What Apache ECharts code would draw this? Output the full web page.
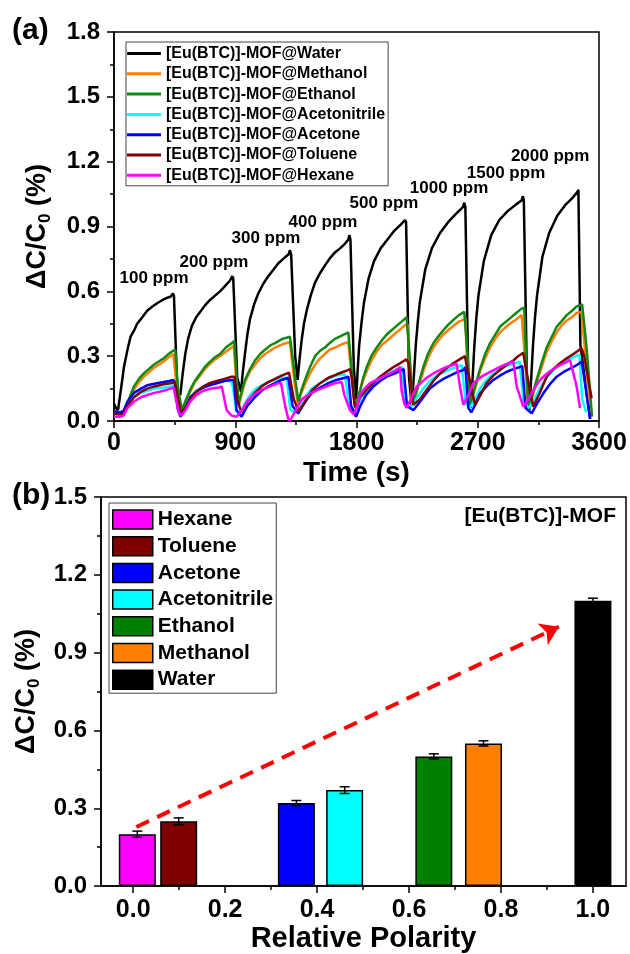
<!DOCTYPE html>
<html>

<head>
    <meta charset="utf-8">
    <title>[Eu(BTC)]-MOF humidity / solvent response</title>
    <script src="https://cdn.jsdelivr.net/npm/echarts@6/dist/echarts.min.js"></script>
    <style>
        html, body { margin: 0; padding: 0; background: #fff; }
        #chart { width: 630px; height: 954px; }
    </style>
</head>

<body>
    <div id="chart"></div>
    <script>
        // ---- (a) response curves, [time (s), ΔC/C0 (%)] ----
        const waterData = [[0,0.08],[15,0.06],[30,0.05],[50,0.14],[74,0.25],[100,0.33],[123,0.39],[150,0.42],[172,0.45],[210,0.48],[246,0.51],[285,0.53],[320,0.545],[360,0.56],[394,0.57],[420,0.575],[438,0.59],[445,0.58],[470,0.14],[492,0.12],[510,0.22],[529,0.31],[550,0.38],[578,0.44],[610,0.48],[640,0.505],[675,0.535],[713,0.56],[750,0.58],[787,0.60],[825,0.625],[861,0.65],[878,0.67],[885,0.66],[915,0.2],[943,0.135],[955,0.22],[972,0.31],[990,0.40],[1009,0.47],[1040,0.54],[1071,0.59],[1108,0.635],[1145,0.67],[1183,0.70],[1220,0.73],[1265,0.755],[1295,0.77],[1306,0.79],[1315,0.77],[1345,0.3],[1363,0.19],[1378,0.29],[1393,0.375],[1410,0.45],[1430,0.51],[1460,0.58],[1492,0.64],[1530,0.685],[1566,0.72],[1605,0.755],[1640,0.78],[1680,0.80],[1714,0.82],[1740,0.84],[1747,0.86],[1755,0.84],[1780,0.25],[1797,0.10],[1810,0.25],[1820,0.35],[1838,0.46],[1856,0.55],[1890,0.66],[1930,0.74],[1980,0.80],[2030,0.84],[2080,0.88],[2130,0.91],[2160,0.93],[2168,0.92],[2190,0.2],[2210,0.07],[2225,0.2],[2240,0.35],[2255,0.46],[2270,0.55],[2310,0.70],[2360,0.80],[2420,0.87],[2480,0.92],[2540,0.96],[2590,0.99],[2600,1.01],[2608,0.99],[2630,0.2],[2648,0.06],[2662,0.2],[2675,0.35],[2690,0.48],[2705,0.58],[2745,0.74],[2800,0.86],[2860,0.93],[2920,0.97],[2980,1.00],[3025,1.02],[3035,1.04],[3042,1.02],[3065,0.2],[3083,0.05],[3097,0.2],[3110,0.35],[3125,0.48],[3140,0.58],[3180,0.76],[3230,0.87],[3290,0.95],[3350,1.00],[3400,1.03],[3440,1.06],[3447,1.07],[3462,0.35],[3535,0.01]];

        const methanolData = [[0,0.04],[40,0.035],[80,0.04],[110,0.09],[148,0.145],[185,0.18],[221,0.205],[258,0.225],[295,0.245],[332,0.26],[369,0.275],[405,0.295],[440,0.31],[452,0.31],[472,0.12],[500,0.04],[535,0.09],[566,0.135],[600,0.18],[640,0.21],[675,0.24],[713,0.265],[750,0.285],[787,0.30],[830,0.32],[873,0.34],[890,0.35],[905,0.2],[925,0.07],[950,0.13],[972,0.18],[1010,0.23],[1046,0.26],[1085,0.29],[1121,0.31],[1160,0.325],[1195,0.34],[1250,0.355],[1306,0.365],[1318,0.37],[1340,0.18],[1365,0.08],[1390,0.13],[1418,0.17],[1455,0.22],[1492,0.26],[1530,0.29],[1566,0.31],[1600,0.33],[1640,0.34],[1690,0.355],[1739,0.365],[1750,0.37],[1768,0.18],[1788,0.06],[1805,0.09],[1826,0.14],[1850,0.19],[1876,0.23],[1910,0.28],[1950,0.32],[1985,0.35],[2024,0.37],[2060,0.39],[2098,0.41],[2135,0.43],[2165,0.445],[2180,0.445],[2198,0.22],[2215,0.07],[2255,0.15],[2296,0.23],[2330,0.29],[2370,0.34],[2405,0.37],[2444,0.40],[2480,0.42],[2519,0.44],[2560,0.46],[2600,0.47],[2608,0.48],[2622,0.25],[2640,0.07],[2680,0.15],[2717,0.23],[2755,0.29],[2791,0.34],[2830,0.38],[2865,0.41],[2900,0.43],[2939,0.45],[2985,0.47],[3026,0.49],[3040,0.495],[3055,0.25],[3072,0.07],[3105,0.11],[3137,0.18],[3175,0.25],[3211,0.32],[3250,0.37],[3286,0.41],[3320,0.44],[3360,0.465],[3400,0.48],[3434,0.50],[3470,0.505],[3480,0.51],[3500,0.3],[3525,0.08]];

        const ethanolData = [[0,0.045],[40,0.04],[80,0.045],[110,0.10],[148,0.16],[185,0.195],[221,0.22],[258,0.24],[295,0.26],[332,0.275],[369,0.29],[405,0.31],[438,0.325],[455,0.33],[475,0.15],[504,0.05],[535,0.10],[566,0.145],[600,0.185],[640,0.22],[675,0.25],[713,0.275],[750,0.295],[787,0.31],[830,0.34],[873,0.36],[893,0.37],[905,0.25],[925,0.08],[950,0.14],[972,0.19],[1010,0.24],[1046,0.28],[1085,0.31],[1121,0.33],[1160,0.35],[1195,0.36],[1250,0.38],[1306,0.39],[1320,0.395],[1340,0.22],[1368,0.09],[1390,0.14],[1418,0.19],[1455,0.25],[1492,0.30],[1530,0.325],[1566,0.34],[1600,0.36],[1640,0.38],[1690,0.395],[1739,0.41],[1752,0.415],[1770,0.2],[1790,0.06],[1805,0.09],[1826,0.14],[1850,0.2],[1876,0.25],[1910,0.30],[1950,0.34],[1985,0.37],[2024,0.40],[2060,0.42],[2098,0.44],[2135,0.46],[2172,0.48],[2185,0.485],[2200,0.25],[2218,0.08],[2255,0.16],[2296,0.25],[2330,0.31],[2370,0.36],[2405,0.39],[2444,0.42],[2480,0.445],[2519,0.468],[2560,0.49],[2600,0.505],[2612,0.51],[2625,0.3],[2642,0.07],[2680,0.16],[2717,0.24],[2755,0.31],[2791,0.36],[2830,0.40],[2865,0.436],[2900,0.455],[2939,0.475],[2985,0.50],[3026,0.52],[3045,0.525],[3058,0.3],[3075,0.07],[3105,0.12],[3137,0.19],[3175,0.27],[3211,0.34],[3250,0.39],[3286,0.436],[3320,0.46],[3360,0.49],[3400,0.51],[3434,0.53],[3475,0.54],[3485,0.54],[3508,0.34],[3548,0.02]];

        const acetonitrileData = [[0,0.035],[40,0.03],[70,0.035],[100,0.075],[148,0.11],[200,0.13],[246,0.14],[300,0.15],[369,0.155],[420,0.16],[440,0.165],[455,0.14],[480,0.04],[500,0.03],[530,0.06],[566,0.11],[610,0.14],[664,0.16],[710,0.17],[763,0.18],[820,0.185],[870,0.185],[885,0.15],[905,0.05],[935,0.03],[970,0.08],[1010,0.12],[1046,0.145],[1095,0.165],[1145,0.18],[1195,0.19],[1244,0.2],[1280,0.2],[1290,0.15],[1310,0.05],[1350,0.04],[1390,0.07],[1430,0.12],[1467,0.15],[1530,0.175],[1591,0.195],[1650,0.21],[1714,0.215],[1728,0.22],[1745,0.07],[1785,0.04],[1826,0.08],[1870,0.14],[1925,0.18],[1975,0.205],[2024,0.22],[2085,0.235],[2125,0.245],[2140,0.25],[2160,0.08],[2200,0.06],[2240,0.1],[2296,0.15],[2345,0.185],[2395,0.21],[2445,0.225],[2494,0.24],[2545,0.25],[2580,0.26],[2590,0.26],[2612,0.08],[2640,0.06],[2680,0.1],[2717,0.15],[2765,0.19],[2816,0.22],[2865,0.24],[2915,0.255],[2965,0.265],[3010,0.275],[3020,0.28],[3042,0.08],[3080,0.06],[3120,0.1],[3160,0.15],[3211,0.2],[3260,0.235],[3310,0.26],[3360,0.28],[3410,0.295],[3440,0.305],[3455,0.305],[3475,0.1],[3505,0.04]];

        const acetoneData = [[0,0.045],[40,0.04],[70,0.045],[100,0.09],[148,0.13],[200,0.15],[246,0.165],[300,0.172],[369,0.18],[410,0.185],[440,0.19],[450,0.18],[475,0.05],[495,0.02],[530,0.06],[566,0.11],[610,0.135],[664,0.155],[710,0.165],[763,0.175],[820,0.185],[873,0.19],[888,0.19],[910,0.05],[947,0.02],[990,0.07],[1046,0.11],[1095,0.14],[1145,0.16],[1195,0.175],[1244,0.19],[1294,0.20],[1305,0.2],[1325,0.07],[1368,0.035],[1420,0.09],[1467,0.13],[1530,0.155],[1591,0.175],[1650,0.19],[1714,0.2],[1740,0.205],[1760,0.07],[1797,0.02],[1826,0.066],[1870,0.12],[1925,0.16],[1975,0.185],[2024,0.205],[2085,0.22],[2135,0.235],[2150,0.24],[2175,0.07],[2222,0.05],[2260,0.08],[2296,0.11],[2345,0.15],[2395,0.175],[2445,0.195],[2494,0.21],[2545,0.225],[2593,0.236],[2608,0.25],[2630,0.06],[2652,0.04],[2685,0.08],[2717,0.128],[2765,0.16],[2816,0.19],[2865,0.21],[2915,0.228],[2965,0.24],[3014,0.25],[3030,0.255],[3055,0.06],[3100,0.035],[3140,0.08],[3187,0.128],[3235,0.17],[3286,0.205],[3345,0.23],[3410,0.25],[3450,0.265],[3471,0.275],[3490,0.2],[3533,0.01]];

        const tolueneData = [[0,0.035],[40,0.03],[70,0.035],[100,0.07],[148,0.11],[200,0.135],[246,0.15],[300,0.16],[369,0.17],[420,0.175],[450,0.18],[470,0.12],[495,0.04],[530,0.06],[566,0.1],[610,0.135],[664,0.16],[710,0.175],[763,0.185],[820,0.195],[873,0.205],[895,0.205],[915,0.1],[945,0.04],[990,0.09],[1046,0.13],[1095,0.16],[1145,0.18],[1195,0.195],[1244,0.21],[1299,0.224],[1312,0.22],[1335,0.1],[1370,0.045],[1420,0.09],[1467,0.14],[1530,0.175],[1591,0.2],[1650,0.215],[1714,0.23],[1752,0.24],[1765,0.2],[1785,0.08],[1800,0.06],[1826,0.11],[1875,0.145],[1925,0.175],[1975,0.205],[2024,0.228],[2075,0.25],[2123,0.267],[2170,0.285],[2185,0.27],[2222,0.075],[2270,0.1],[2321,0.143],[2370,0.185],[2420,0.22],[2470,0.245],[2519,0.267],[2565,0.285],[2605,0.30],[2620,0.25],[2680,0.075],[2720,0.12],[2766,0.175],[2815,0.21],[2865,0.236],[2915,0.26],[2964,0.28],[3000,0.3],[3038,0.316],[3055,0.25],[3112,0.066],[3160,0.13],[3211,0.205],[3260,0.24],[3310,0.267],[3360,0.29],[3410,0.31],[3445,0.325],[3471,0.336],[3490,0.3],[3545,0.105]];

        const hexaneData = [[0,0.02],[40,0.02],[70,0.025],[100,0.06],[148,0.09],[200,0.11],[246,0.12],[300,0.13],[369,0.14],[420,0.15],[443,0.155],[460,0.1],[480,0.04],[500,0.025],[530,0.05],[566,0.09],[610,0.12],[664,0.14],[720,0.15],[780,0.155],[800,0.16],[836,0.05],[873,0.025],[910,0.02],[950,0.05],[997,0.10],[1046,0.125],[1096,0.145],[1160,0.16],[1220,0.175],[1240,0.175],[1270,0.07],[1294,0.01],[1305,0.0],[1350,0.05],[1393,0.1],[1450,0.125],[1517,0.145],[1580,0.16],[1640,0.175],[1690,0.18],[1710,0.12],[1752,0.05],[1780,0.03],[1800,0.06],[1826,0.12],[1860,0.15],[1900,0.175],[1950,0.19],[1999,0.205],[2050,0.22],[2098,0.236],[2123,0.25],[2135,0.14],[2155,0.08],[2172,0.06],[2210,0.11],[2247,0.16],[2285,0.18],[2321,0.2],[2370,0.22],[2420,0.236],[2470,0.25],[2519,0.26],[2543,0.265],[2568,0.16],[2593,0.075],[2630,0.12],[2667,0.175],[2705,0.195],[2741,0.21],[2800,0.23],[2865,0.25],[2920,0.265],[2964,0.275],[2989,0.16],[3038,0.066],[3075,0.1],[3112,0.143],[3150,0.18],[3187,0.205],[3235,0.23],[3286,0.25],[3335,0.265],[3385,0.282],[3410,0.22],[3434,0.16],[3459,0.06]];

        const lineNames = ['[Eu(BTC)]-MOF@Water', '[Eu(BTC)]-MOF@Methanol', '[Eu(BTC)]-MOF@Ethanol',
            '[Eu(BTC)]-MOF@Acetonitrile', '[Eu(BTC)]-MOF@Acetone', '[Eu(BTC)]-MOF@Toluene', '[Eu(BTC)]-MOF@Hexane'];
        const lineData = [waterData, methanolData, ethanolData, acetonitrileData, acetoneData, tolueneData, hexaneData];
        const lineColors = ['#000000', '#ff8000', '#118811', '#00ffff', '#0000ff', '#800000', '#ff00ff'];

        // concentration labels
        const ppmLabels = ['100 ppm', '200 ppm', '300 ppm', '400 ppm', '500 ppm', '1000 ppm', '1500 ppm', '2000 ppm'];
        const ppmX = [297, 742, 1128, 1551, 2004, 2487, 2910, 3237];
        const ppmY = [0.662, 0.736, 0.847, 0.921, 1.009, 1.078, 1.148, 1.226];

        // ---- (b) response vs relative polarity ----
        const solvents = ['Hexane', 'Toluene', 'Acetone', 'Acetonitrile', 'Ethanol', 'Methanol', 'Water'];
        const polarity = [0.009, 0.099, 0.355, 0.46, 0.654, 0.762, 1.0];
        const response = [0.20, 0.25, 0.32, 0.37, 0.50, 0.55, 1.10];
        const responseErr = [0.012, 0.013, 0.01, 0.013, 0.01, 0.01, 0.01];
        const barColors = ['#ff00ff', '#800000', '#0000ff', '#00ffff', '#008000', '#ff8000', '#000000'];
        const trendArrow = [[0.007, 0.228], [0.926, 1.0]];

        const F = 'Liberation Sans';
        const bold = (size) => ({ fontFamily: F, fontWeight: 'bold', fontSize: size, color: '#000' });
        const axisLine = { onZero: false, lineStyle: { color: '#000', width: 1.5 } };
        const tick = { length: 7, lineStyle: { color: '#000', width: 1.5 } };
        const minor = { show: true, splitNumber: 2, length: 4, lineStyle: { color: '#000', width: 1.5 } };
        const yName = '{a|ΔC/C}{b|0}{a| (%)}';
        const yNameStyle = {
            rich: {
                a: Object.assign(bold(27), { lineHeight: 32 }),
                b: Object.assign(bold(17), { lineHeight: 32, verticalAlign: 'bottom', padding: [10, 0, 0, 0] })
            }
        };

        const chart = echarts.init(document.getElementById('chart'));

        const series = [];
        lineData.forEach((d, i) => {
            series.push({
                name: lineNames[i], type: 'line', xAxisIndex: 0, yAxisIndex: 0,
                data: d, showSymbol: false, symbol: 'none',
                lineStyle: { color: lineColors[i], width: 2.5 },
                itemStyle: { color: lineColors[i] }
            });
        });
        series.push({
            type: 'scatter', xAxisIndex: 0, yAxisIndex: 0, symbolSize: 0, silent: true, z: 10,
            itemStyle: { opacity: 1, color: '#000' },
            data: ppmLabels.map((t, i) => ({ name: t, value: [ppmX[i], ppmY[i]] })),
            label: Object.assign({ show: true, position: 'inside', formatter: p => p.name, opacity: 1 }, bold(17))
        });
        solvents.forEach((s, i) => {
            const bar = {
                name: s, type: 'bar', xAxisIndex: 1, yAxisIndex: 1,
                barWidth: 37, barGap: '-100%',
                data: [[polarity[i], response[i]]],
                itemStyle: { color: barColors[i], borderColor: '#000', borderWidth: 1.5 }
            };
            if (i === 0) {
                bar.markLine = {
                    silent: true, symbol: ['none', 'arrow'], symbolSize: 18,
                    label: { show: false },
                    lineStyle: { color: '#ff0000', width: 4, type: [14, 9] },
                    itemStyle: { color: '#ff0000' },
                    data: [[{ coord: trendArrow[0] }, { coord: trendArrow[1] }]]
                };
            }
            series.push(bar);
        });
        // error bars
        series.push({
            type: 'custom', xAxisIndex: 1, yAxisIndex: 1, z: 5, silent: true,
            data: polarity.map((p, i) => [p, response[i] - responseErr[i], response[i] + responseErr[i]]),
            renderItem: function (params, api) {
                const lo = api.coord([api.value(0), api.value(1)]);
                const hi = api.coord([api.value(0), api.value(2)]);
                const w = 5;
                const st = { stroke: '#000', lineWidth: 1.5 };
                return {
                    type: 'group', children: [
                        { type: 'line', shape: { x1: lo[0], y1: lo[1], x2: hi[0], y2: hi[1] }, style: st },
                        { type: 'line', shape: { x1: lo[0] - w, y1: lo[1], x2: lo[0] + w, y2: lo[1] }, style: st },
                        { type: 'line', shape: { x1: hi[0] - w, y1: hi[1], x2: hi[0] + w, y2: hi[1] }, style: st }
                    ]
                };
            }
        });

        const option = {
            animation: false,
            backgroundColor: '#fff',
            graphic: [
                { type: 'text', left: 12, top: 16, style: { text: '(a)', fontFamily: F, fontWeight: 'bold', fontSize: 30, fill: '#000' } },
                { type: 'text', left: 12, top: 481, style: { text: '(b)', fontFamily: F, fontWeight: 'bold', fontSize: 30, fill: '#000' } },
                { type: 'text', right: 14, top: 506, style: { text: '[Eu(BTC)]-MOF', fontFamily: F, fontWeight: 'bold', fontSize: 21, fill: '#000' } }
            ],
            legend: [
                {
                    data: lineNames, orient: 'vertical', left: 126, top: 42,
                    icon: 'rect', itemWidth: 34, itemHeight: 3, itemGap: 3.3,
                    padding: [3, 3, 2, 1], borderColor: '#444', borderWidth: 1,
                    textStyle: Object.assign(bold(16), { lineHeight: 17 })
                },
                {
                    data: solvents, orient: 'vertical', left: 109, top: 503,
                    icon: 'rect', itemWidth: 40, itemHeight: 19, itemGap: 5.7,
                    padding: [6, 3, 3, 3], borderColor: '#444', borderWidth: 1,
                    itemStyle: { borderColor: '#000', borderWidth: 1.5 },
                    textStyle: Object.assign(bold(21), { lineHeight: 21 })
                }
            ],
            grid: [
                { left: 114, top: 32, width: 485, height: 389, show: true, borderColor: '#000', borderWidth: 1.5 },
                { left: 101, top: 497, width: 525, height: 392, show: true, borderColor: '#000', borderWidth: 1.5 }
            ],
            xAxis: [
                {
                    gridIndex: 0, type: 'value', min: 0, max: 3600, interval: 900,
                    axisLine: axisLine, axisTick: tick, minorTick: minor, splitLine: { show: false },
                    axisLabel: Object.assign({ margin: 10, formatter: v => String(v) }, bold(25)),
                    name: 'Time (s)', nameLocation: 'middle', nameGap: 38, nameTextStyle: bold(28)
                },
                {
                    gridIndex: 1, type: 'value', min: -0.07, max: 1.072,
                    axisLine: axisLine, splitLine: { show: false },
                    axisTick: Object.assign({ customValues: [0, 0.2, 0.4, 0.6, 0.8, 1.0] }, tick),
                    axisLabel: Object.assign({ margin: 12, customValues: [0, 0.2, 0.4, 0.6, 0.8, 1.0], formatter: v => v.toFixed(1) }, bold(25)),
                    name: 'Relative Polarity', nameLocation: 'middle', nameGap: 37, nameTextStyle: bold(29)
                },
                {
                    gridIndex: 1, type: 'value', min: -0.07, max: 1.072, position: 'bottom',
                    axisLine: { show: false }, splitLine: { show: false }, axisLabel: { show: false },
                    axisTick: { customValues: [0.1, 0.3, 0.5, 0.7, 0.9], length: 4, lineStyle: { color: '#000', width: 1.5 } }
                }
            ],
            yAxis: [
                {
                    gridIndex: 0, type: 'value', min: 0, max: 1.8, interval: 0.3,
                    axisLine: axisLine, axisTick: tick, minorTick: minor, splitLine: { show: false },
                    axisLabel: Object.assign({ margin: 14, formatter: v => v.toFixed(1) }, bold(24)),
                    name: yName, nameLocation: 'middle', nameGap: 60, nameTextStyle: yNameStyle
                },
                {
                    gridIndex: 1, type: 'value', min: 0, max: 1.5, interval: 0.3,
                    axisLine: axisLine, axisTick: tick, minorTick: minor, splitLine: { show: false },
                    axisLabel: Object.assign({ margin: 14, formatter: v => v.toFixed(1) }, bold(24)),
                    name: yName, nameLocation: 'middle', nameGap: 51, nameTextStyle: yNameStyle
                }
            ],
            series: series
        };

        chart.setOption(option);
    </script>
</body>

</html>
